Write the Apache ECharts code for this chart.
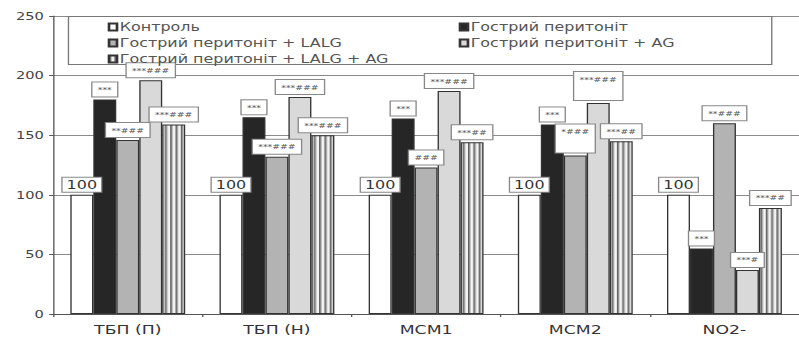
<!DOCTYPE html>
<html>
<head>
<meta charset="utf-8">
<script src="https://cdn.jsdelivr.net/npm/echarts@6/dist/echarts.min.js"></script>
<style>
html,body{margin:0;padding:0;background:#fff;overflow:hidden;}
#wrap{width:799px;height:338px;overflow:hidden;}
#c{width:601px;height:338px;transform:scaleX(1.3295);transform-origin:0 0;}
</style>
</head>
<body>
<div id="wrap"><div id="c"></div></div>
<script>
// ---- data ----
var categories = ['ТБП (П)', 'ТБП (Н)', 'МСМ1', 'МСМ2', 'NO2-'];
var seriesNames = ['Контроль', 'Гострий перитоніт', 'Гострий перитоніт + LALG', 'Гострий перитоніт + AG', 'Гострий перитоніт + LALG + AG'];
var control = [100, 100, 100, 100, 100];
var acute = [180, 165, 164, 159, 55];
var lalg = [146, 132, 123, 133, 160];
var ag = [196, 182, 187, 177, 37];
var combo = [159, 150, 144, 145, 89];
var controlLbl = ['100', '100', '100', '100', '100'];
var acuteLbl = ['***', '***', '***', '***', '***'];
var lalgLbl = ['**###', '***###', '###', '*###', '**###'];
var agLbl = ['***###', '***###', '***###', '***###', '***#'];
var comboLbl = ['***###', '***###', '***##', '***##', '***##'];
var yTicks = [0, 50, 100, 150, 200, 250];

// ---- styling ----
var FONT = 'DejaVu Sans';
function stripePattern() {
  var cv = document.createElement('canvas');
  cv.width = 8; cv.height = 4;
  var ctx = cv.getContext('2d');
  ctx.fillStyle = '#f4f4f4';
  ctx.fillRect(0, 0, 8, 4);
  ctx.fillStyle = '#5e5e5e';
  ctx.fillRect(0, 0, 1.5, 4);
  ctx.fillRect(4, 0, 1.5, 4);
  return {image: cv, repeat: 'repeat'};
}
var fills = ['#ffffff', '#262626', '#b3b3b3', '#d9d9d9', stripePattern()];
var values = [control, acute, lalg, ag, combo];
var labels = [controlLbl, acuteLbl, lalgLbl, agLbl, comboLbl];

function makeData(vals, lbls, idx) {
  return vals.map(function (v, i) {
    var big = (idx === 0);
    var tall = (idx === 2 || idx === 3) && i === 3;
    return {
      value: v,
      label: {
        show: true,
        position: 'top',
        distance: 3,
        formatter: lbls[i],
        fontFamily: FONT,
        fontSize: big ? 12 : 7,
        lineHeight: big ? 12 : 8,
        color: big ? '#333' : '#555',
        backgroundColor: '#fff',
        borderColor: '#888',
        borderWidth: 1,
        padding: big ? [1, 3] : (tall ? [3, 4, 17, 4] : [3, 4])
      }
    };
  });
}

var series = seriesNames.map(function (name, idx) {
  return {
    name: name,
    type: 'bar',
    barGap: '0%',
    barCategoryGap: '23%',
    itemStyle: {color: fills[idx], borderColor: '#333', borderWidth: 1},
    emphasis: {disabled: true},
    data: makeData(values[idx], labels[idx], idx),
    z: 3
  };
});

var legendText = {fontFamily: FONT, fontSize: 12, lineHeight: 12, color: '#555', padding: [0, 0, 0, -3]};
var chart = echarts.init(document.getElementById('c'), null, {renderer: 'svg'});
chart.setOption({
  animation: false,
  backgroundColor: '#fff',
  grid: {left: 40, top: 16, width: 572, height: 298, containLabel: false},
  legend: [
    {
      orient: 'vertical', left: 76, top: 16, itemGap: 4,
      itemWidth: 6, itemHeight: 7, icon: 'rect',
      selectedMode: false, textStyle: legendText,
      data: [seriesNames[0], seriesNames[2], seriesNames[4]]
    },
    {
      orient: 'vertical', left: 340, top: 16, itemGap: 4,
      itemWidth: 6, itemHeight: 7, icon: 'rect',
      selectedMode: false, textStyle: legendText,
      data: [seriesNames[1], seriesNames[3]]
    }
  ],
  graphic: [{
    type: 'rect', left: 51, top: 16, z: 1,
    shape: {width: 529, height: 48},
    style: {fill: '#fff', stroke: '#777', lineWidth: 1}
  }],
  xAxis: {
    type: 'category',
    data: categories,
    axisLine: {lineStyle: {color: '#555'}},
    axisTick: {show: true, length: 3, lineStyle: {color: '#555'}},
    axisLabel: {fontFamily: FONT, fontSize: 13, color: '#333', margin: 9}
  },
  yAxis: {
    type: 'value',
    min: yTicks[0], max: yTicks[yTicks.length - 1], interval: 50,
    axisLine: {show: true, lineStyle: {color: '#555'}},
    axisTick: {show: true, length: 3, lineStyle: {color: '#555'}},
    axisLabel: {fontFamily: FONT, fontSize: 11, color: '#444', margin: 7},
    splitLine: {show: true, lineStyle: {color: '#8a8a8a', width: 1}}
  },
  series: series
});
</script>
</body>
</html>
